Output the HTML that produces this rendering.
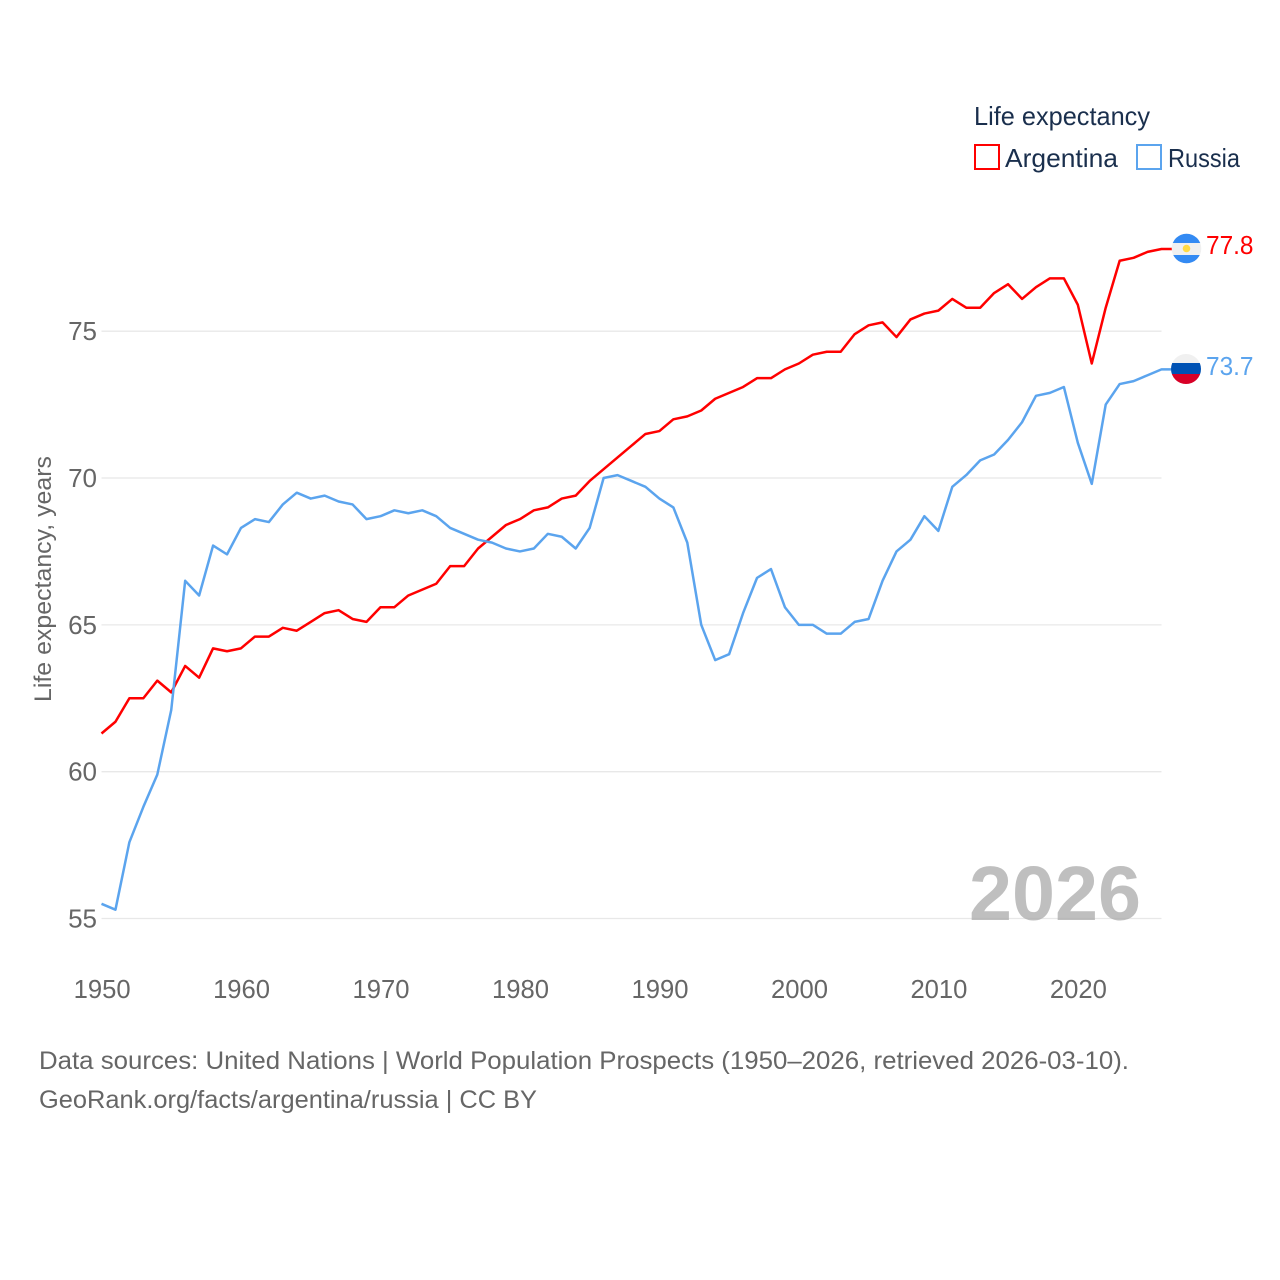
<!DOCTYPE html>
<html lang="en">
<head>
<meta charset="utf-8">
<title>Life expectancy: Argentina and Russia</title>
<style>
html,body{margin:0;padding:0;background:#fff;}
svg{display:block;font-family:"Liberation Sans",sans-serif;}
</style>
</head>
<body>
<svg id="chart" width="1280" height="1280" viewBox="0 0 1280 1280" xmlns="http://www.w3.org/2000/svg">
  <defs>
    <clipPath id="clip-ar"><circle cx="1186.5" cy="248.5" r="14.8"/></clipPath>
    <clipPath id="clip-ru"><circle cx="1186" cy="369" r="15"/></clipPath>
  </defs>
  <g id="grid"></g>
  <g id="yticks"></g>
  <g id="xticks"></g>
  <text x="0" y="0" transform="translate(51,579) rotate(-90)" text-anchor="middle" font-size="24.500" fill="#666" textLength="246" lengthAdjust="spacingAndGlyphs">Life expectancy, years</text>
  <text x="969" y="920" font-size="77" font-weight="700" fill="#aaa" fill-opacity="0.75" textLength="172" lengthAdjust="spacingAndGlyphs">2026</text>
  <g id="series"></g>
  <g clip-path="url(#clip-ar)">
    <rect x="1170" y="233" width="34" height="31" fill="#f0f0f0"/>
    <rect x="1170" y="233" width="34" height="10" fill="#338af3"/>
    <rect x="1170" y="255" width="34" height="10" fill="#338af3"/>
    <circle cx="1186.5" cy="248.500" r="3.800" fill="#ffda44"/>
  </g>
  <g clip-path="url(#clip-ru)">
    <rect x="1170" y="353" width="34" height="32" fill="#f0f0f0"/>
    <rect x="1170" y="363" width="34" height="11" fill="#0052b4"/>
    <rect x="1170" y="374" width="34" height="11" fill="#d80027"/>
  </g>
  <text x="1206" y="254" font-size="26" fill="#ff0000" textLength="47.500" lengthAdjust="spacingAndGlyphs">77.8</text>
  <text x="1206" y="375" font-size="26" fill="#5ba4ee" textLength="47.500" lengthAdjust="spacingAndGlyphs">73.7</text>
  <text x="974" y="125" font-size="26" fill="#1a2f4d" textLength="176" lengthAdjust="spacingAndGlyphs">Life expectancy</text>
  <g>
    <rect x="975" y="145" width="24" height="24" fill="#fff" stroke="#ff0000" stroke-width="2"/>
    <text x="1005" y="167" font-size="26" fill="#1a2f4d" textLength="113" lengthAdjust="spacingAndGlyphs">Argentina</text>
  </g>
  <g>
    <rect x="1137" y="145" width="24" height="24" fill="#fff" stroke="#5ba4ee" stroke-width="2"/>
    <text x="1168" y="167" font-size="26" fill="#1a2f4d" textLength="72" lengthAdjust="spacingAndGlyphs">Russia</text>
  </g>
  <text x="39" y="1069" font-size="25" fill="#666" textLength="1090" lengthAdjust="spacingAndGlyphs">Data sources: United Nations | World Population Prospects (1950–2026, retrieved 2026-03-10).</text>
  <text x="39" y="1108" font-size="25" fill="#666" textLength="498" lengthAdjust="spacingAndGlyphs">GeoRank.org/facts/argentina/russia | CC BY</text>
</svg>
<script>
const startYear = 1950;
const argentina = [61.3,61.7,62.5,62.5,63.1,62.7,63.6,63.2,64.2,64.1,64.2,64.6,64.6,64.9,64.8,65.1,65.4,65.5,65.2,65.1,65.6,65.6,66.0,66.2,66.4,67.0,67.0,67.6,68.0,68.4,68.6,68.9,69.0,69.3,69.4,69.9,70.3,70.7,71.1,71.5,71.6,72.0,72.1,72.3,72.7,72.9,73.1,73.4,73.4,73.7,73.9,74.2,74.3,74.3,74.9,75.2,75.3,74.8,75.4,75.6,75.7,76.1,75.8,75.8,76.3,76.6,76.1,76.5,76.8,76.8,75.9,73.9,75.8,77.4,77.5,77.7,77.8];
const russia = [55.5,55.3,57.6,58.8,59.9,62.1,66.5,66.0,67.7,67.4,68.3,68.6,68.5,69.1,69.5,69.3,69.4,69.2,69.1,68.6,68.7,68.9,68.8,68.9,68.7,68.3,68.1,67.9,67.8,67.6,67.5,67.6,68.1,68.0,67.6,68.3,70.0,70.1,69.9,69.7,69.3,69.0,67.8,65.0,63.8,64.0,65.4,66.6,66.9,65.6,65.0,65.0,64.7,64.7,65.1,65.2,66.5,67.5,67.9,68.7,68.2,69.7,70.1,70.6,70.8,71.3,71.9,72.8,72.9,73.1,71.2,69.8,72.5,73.2,73.3,73.5,73.7];
const yTicks = [55,60,65,70,75];
const xTicks = [1950,1960,1970,1980,1990,2000,2010,2020];

const NS = 'http://www.w3.org/2000/svg';
function xScale(year){ return 101.5 + (year - 1950) * (1161.5 - 101.5) / 76; }
function yScale(v){ return 331.2 + (75 - v) * (918.5 - 331.2) / 20; }

const gridG = document.getElementById('grid');
const yG = document.getElementById('yticks');
const xG = document.getElementById('xticks');
const seriesG = document.getElementById('series');

yTicks.forEach(function(t){
  const line = document.createElementNS(NS,'line');
  line.setAttribute('x1', xScale(1950));
  line.setAttribute('x2', xScale(2026));
  line.setAttribute('y1', yScale(t));
  line.setAttribute('y2', yScale(t));
  line.setAttribute('stroke', '#e8e8e8');
  line.setAttribute('stroke-width', '1.3');
  
  
  gridG.appendChild(line);

  const label = document.createElementNS(NS,'text');
  label.setAttribute('x', 97);
  label.setAttribute('y', yScale(t) + 9);
  label.setAttribute('text-anchor', 'end');
  label.setAttribute('font-size', '26');
  label.setAttribute('fill', '#666');
  
  
  label.textContent = t;
  yG.appendChild(label);
});

xTicks.forEach(function(t){
  const label = document.createElementNS(NS,'text');
  label.setAttribute('x', xScale(t) + 0.6);
  label.setAttribute('y', 998);
  label.setAttribute('text-anchor', 'middle');
  label.setAttribute('font-size', '26');
  label.setAttribute('fill', '#666');
  label.setAttribute('textLength', '57');
  label.setAttribute('lengthAdjust', 'spacingAndGlyphs');
  
  
  label.textContent = t;
  xG.appendChild(label);
});

function pointsFor(values){
  return values.map(function(v,i){
    return xScale(startYear + i).toFixed(2) + ',' + yScale(v).toFixed(2);
  });
}

const argentinaLine = document.createElementNS(NS,'polyline');
const argentinaPts = pointsFor(argentina);
argentinaPts.push('1172,' + yScale(argentina[argentina.length - 1]).toFixed(2));
argentinaLine.setAttribute('points', argentinaPts.join(' '));
argentinaLine.setAttribute('fill', 'none');
argentinaLine.setAttribute('stroke', '#ff0000');
argentinaLine.setAttribute('stroke-width', '2.5');
argentinaLine.setAttribute('stroke-linejoin', 'round');


seriesG.appendChild(argentinaLine);

const russiaLine = document.createElementNS(NS,'polyline');
const russiaPts = pointsFor(russia);
russiaPts.push('1172,' + yScale(russia[russia.length - 1]).toFixed(2));
russiaLine.setAttribute('points', russiaPts.join(' '));
russiaLine.setAttribute('fill', 'none');
russiaLine.setAttribute('stroke', '#5ba4ee');
russiaLine.setAttribute('stroke-width', '2.5');
russiaLine.setAttribute('stroke-linejoin', 'round');


seriesG.appendChild(russiaLine);
</script>
</body>
</html>
